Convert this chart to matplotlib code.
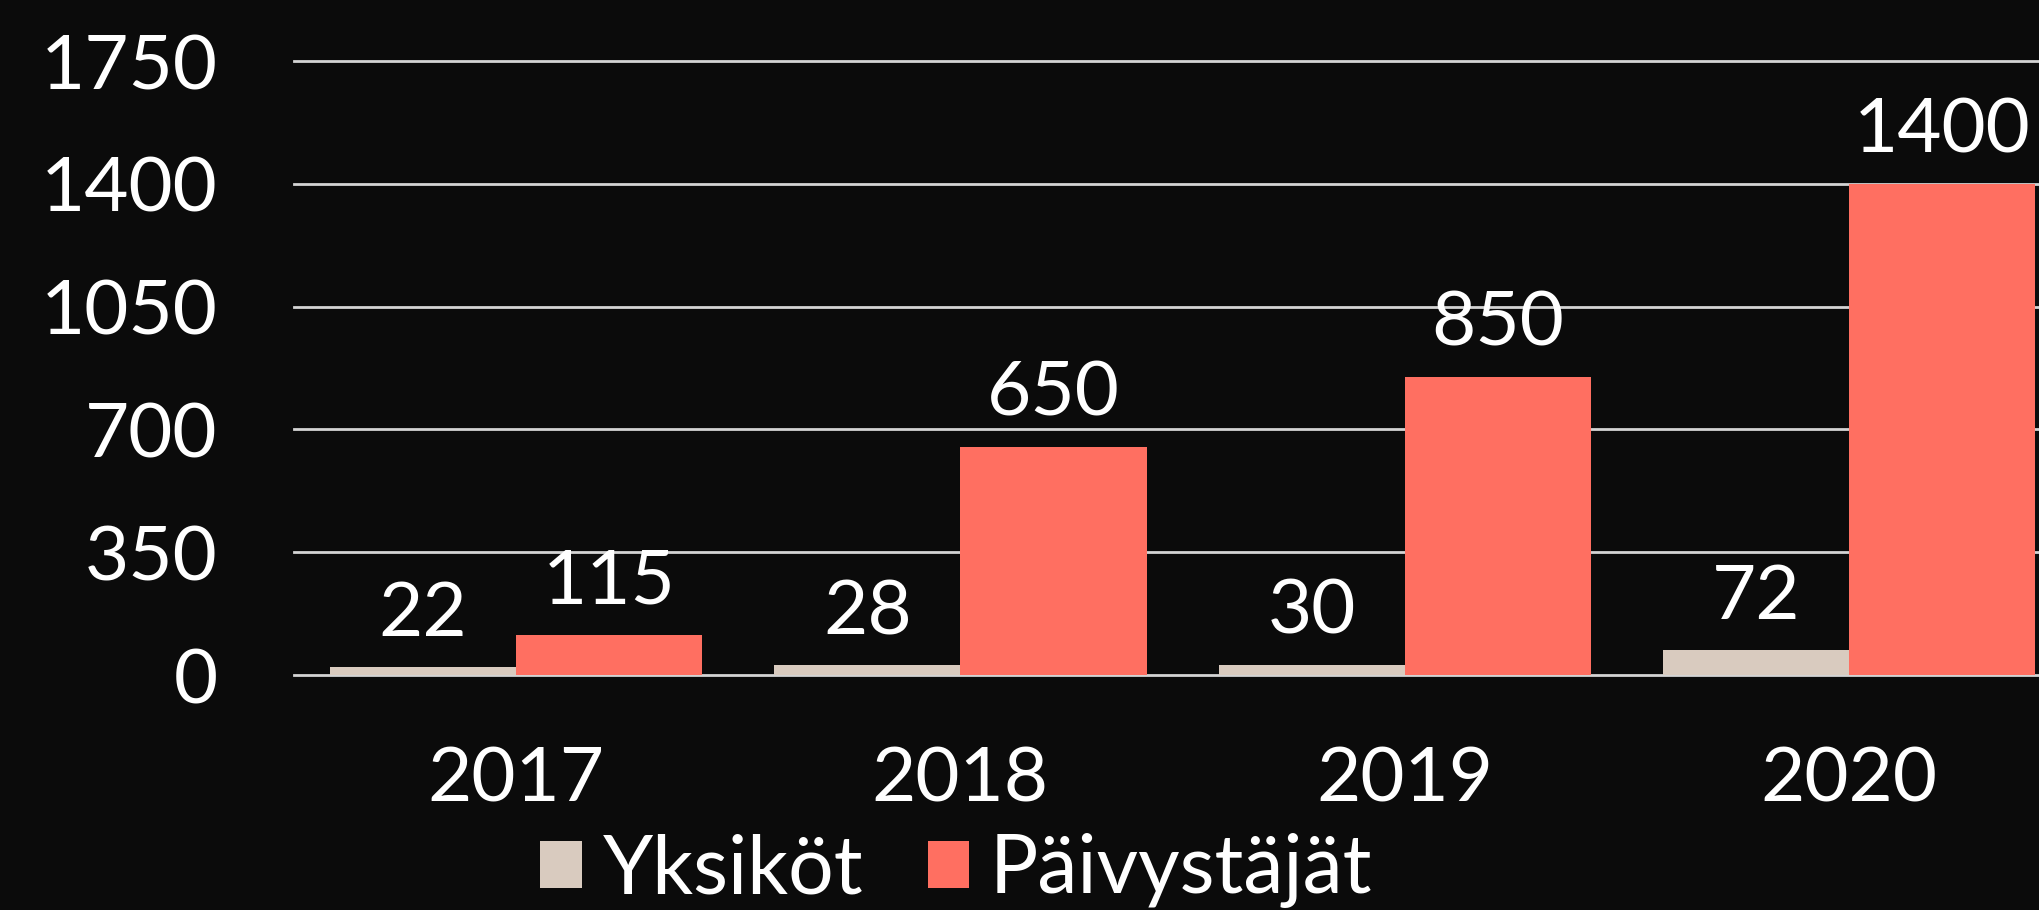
import matplotlib
matplotlib.use("Agg")
from matplotlib import pyplot as plt
import numpy as np

years = ["2017", "2018", "2019", "2020"]
yksikot = [22, 28, 30, 72]
paivystajat = [115, 650, 850, 1400]
series_names = ["Yksiköt", "Päivystäjät"]
yticks = [0, 350, 700, 1050, 1400, 1750]

bg = "#0b0b0b"
beige = "#d9cbbf"
coral = "#ff6f61"

plt.rcParams["font.family"] = ["Lato", "DejaVu Sans"]
plt.rcParams["font.weight"] = "normal"
fs = 55

fig = plt.figure(figsize=(20.39, 9.10), dpi=100, facecolor=bg)
ax = fig.add_axes([0.1442, 0.2582, 0.8715, 0.6747], facecolor=bg)

x = np.arange(len(years))
w = 0.419
b1 = ax.bar(x - w / 2, yksikot, w, color=beige, label=series_names[0], zorder=3)
b2 = ax.bar(x + w / 2, paivystajat, w, color=coral, label=series_names[1], zorder=3)

for bars in (b1, b2):
    ax.bar_label(bars, padding=13, color="white", fontsize=fs)

ax.set_xlim(-0.5, 3.5)
ax.set_ylim(0, 1750)
ax.set_yticks(yticks)
ax.set_xticks(x)
ax.set_xticklabels(years)
ax.yaxis.grid(True, color="#d4d4d4", linewidth=2, zorder=0)
for gl in ax.yaxis.get_gridlines():
    gl.set_clip_on(False)
ax.set_axisbelow(True)
for s in ax.spines.values():
    s.set_visible(False)
ax.tick_params(axis="both", length=0, colors="white", labelsize=fs)
ax.tick_params(axis="y", pad=55)
ax.tick_params(axis="x", pad=51)

leg = fig.legend(handles=[b1, b2], loc="center", bbox_to_anchor=(0.469, 0.043),
                 ncol=2, frameon=False, fontsize=58, handlelength=0.52, handleheight=0.52,
                 handletextpad=0.25, columnspacing=0.8, labelcolor="white",
                 borderpad=0.2)

fig.savefig("out.png", dpi=100, facecolor=bg)
